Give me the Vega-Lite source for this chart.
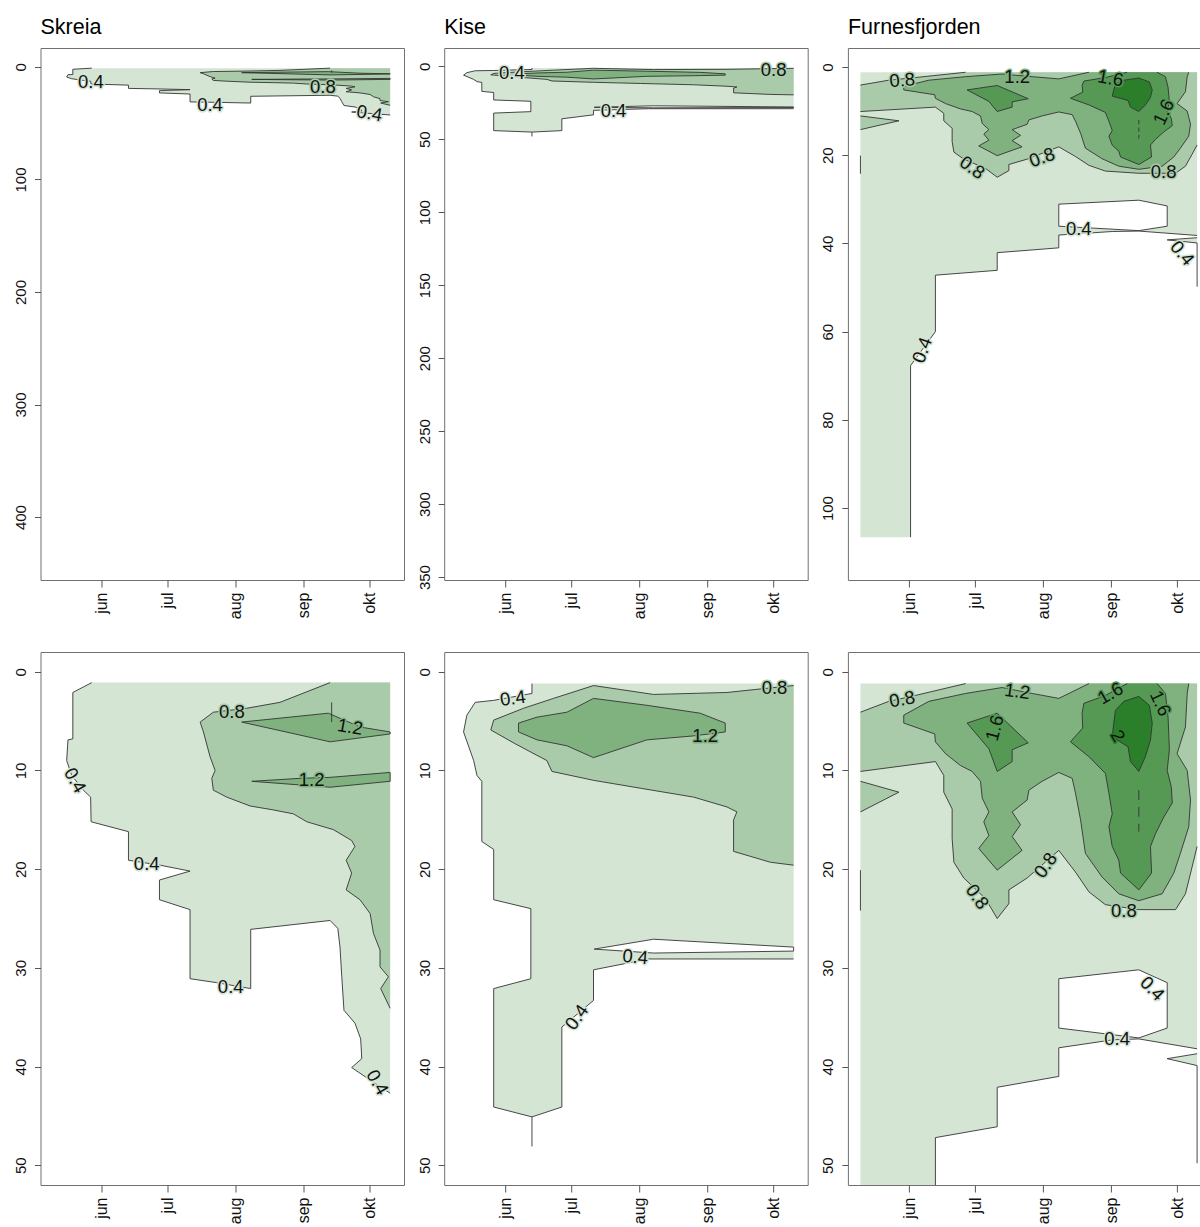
{
  "$schema": "https://vega.github.io/schema/vega-lite/v6.json",
  "background": "white",
  "padding": {"left": 12.5, "top": 16, "right": 0, "bottom": 0},
  "config": {
    "font": "Liberation Sans",
    "view": {"stroke": "#707070", "strokeWidth": 1},
    "title": {"font": "Liberation Sans", "fontSize": 21.5, "fontWeight": "normal", "anchor": "start", "frame": "group", "baseline": "alphabetic", "offset": 9.5, "color": "#000000"},
    "axisX": {"labelAngle": -90, "labelAlign": "right", "labelBaseline": "middle", "tickSize": 7, "labelPadding": 5, "labelFontSize": 16, "labelFont": "Liberation Sans", "labelColor": "#111111", "tickColor": "#555555", "domain": false, "grid": false, "labelOverlap": false, "labelFlush": false},
    "axisY": {"labelAngle": -90, "labelAlign": "center", "labelBaseline": "alphabetic", "tickSize": 6, "labelPadding": 9, "labelFontSize": 15, "labelFont": "Liberation Sans", "labelColor": "#111111", "tickColor": "#555555", "domain": false, "grid": false, "labelOverlap": false, "labelFlush": false}
  },
  "datasets": {
    "skreia": [
      {"p":1,"lv":0.4,"s":1,"t":147.5,"d":1.1},
      {"p":1,"lv":0.4,"s":1,"t":138.9,"d":2.1},
      {"p":1,"lv":0.4,"s":1,"t":138.9,"d":6.8},
      {"p":1,"lv":0.4,"s":1,"t":136.7,"d":6.9},
      {"p":1,"lv":0.4,"s":1,"t":136.1,"d":9.0},
      {"p":1,"lv":0.4,"s":1,"t":138.4,"d":10.5},
      {"p":1,"lv":0.4,"s":1,"t":143.7,"d":12.0},
      {"p":1,"lv":0.4,"s":1,"t":147.0,"d":12.7},
      {"p":1,"lv":0.4,"s":1,"t":147.2,"d":15.2},
      {"p":1,"lv":0.4,"s":1,"t":164.2,"d":16.2},
      {"p":1,"lv":0.4,"s":1,"t":164.2,"d":19.1},
      {"p":1,"lv":0.4,"s":1,"t":178.6,"d":19.6},
      {"p":1,"lv":0.4,"s":1,"t":192.2,"d":20.2},
      {"p":1,"lv":0.4,"s":1,"t":178.3,"d":21.1},
      {"p":1,"lv":0.4,"s":1,"t":178.3,"d":23.1},
      {"p":1,"lv":0.4,"s":1,"t":192.2,"d":24.1},
      {"p":1,"lv":0.4,"s":1,"t":192.2,"d":31.1},
      {"p":1,"lv":0.4,"s":1,"t":204.3,"d":31.5},
      {"p":1,"lv":0.4,"s":1,"t":219.8,"d":32.1},
      {"p":1,"lv":0.4,"s":1,"t":219.8,"d":26.1},
      {"p":1,"lv":0.4,"s":1,"t":255.9,"d":25.2},
      {"p":1,"lv":0.4,"s":1,"t":259.4,"d":26.0},
      {"p":1,"lv":0.4,"s":1,"t":260.4,"d":27.9},
      {"p":1,"lv":0.4,"s":1,"t":261.2,"d":30.9},
      {"p":1,"lv":0.4,"s":1,"t":262.2,"d":34.3},
      {"p":1,"lv":0.4,"s":1,"t":267.2,"d":35.6},
      {"p":1,"lv":0.4,"s":1,"t":269.8,"d":37.2},
      {"p":1,"lv":0.4,"s":1,"t":270.3,"d":39.2},
      {"p":1,"lv":0.4,"s":1,"t":265.7,"d":40.1},
      {"p":1,"lv":0.4,"s":1,"t":275.6,"d":41.6},
      {"p":1,"lv":0.4,"s":1,"t":283.2,"d":42.7},
      {"p":1,"lv":0.4,"s":0,"t":283.2,"d":1.1},
      {"p":2,"lv":0.8,"s":2,"t":255.9,"d":1.1},
      {"p":2,"lv":0.8,"s":2,"t":233.1,"d":3.1},
      {"p":2,"lv":0.8,"s":2,"t":218.0,"d":3.7},
      {"p":2,"lv":0.8,"s":2,"t":202.8,"d":4.1},
      {"p":2,"lv":0.8,"s":2,"t":196.8,"d":5.1},
      {"p":2,"lv":0.8,"s":2,"t":198.3,"d":6.1},
      {"p":2,"lv":0.8,"s":2,"t":201.3,"d":8.6},
      {"p":2,"lv":0.8,"s":2,"t":203.6,"d":10.0},
      {"p":2,"lv":0.8,"s":2,"t":202.1,"d":10.8},
      {"p":2,"lv":0.8,"s":2,"t":202.8,"d":12.0},
      {"p":2,"lv":0.8,"s":2,"t":208.9,"d":12.7},
      {"p":2,"lv":0.8,"s":2,"t":219.5,"d":13.6},
      {"p":2,"lv":0.8,"s":2,"t":230.1,"d":14.0},
      {"p":2,"lv":0.8,"s":2,"t":239.2,"d":14.4},
      {"p":2,"lv":0.8,"s":2,"t":245.3,"d":15.2},
      {"p":2,"lv":0.8,"s":2,"t":257.4,"d":16.0},
      {"p":2,"lv":0.8,"s":2,"t":265.7,"d":17.1},
      {"p":2,"lv":0.8,"s":2,"t":267.2,"d":17.7},
      {"p":2,"lv":0.8,"s":2,"t":263.2,"d":19.1},
      {"p":2,"lv":0.8,"s":2,"t":265.7,"d":20.4},
      {"p":2,"lv":0.8,"s":2,"t":263.2,"d":22.1},
      {"p":2,"lv":0.8,"s":2,"t":269.5,"d":23.1},
      {"p":2,"lv":0.8,"s":2,"t":274.1,"d":24.5},
      {"p":2,"lv":0.8,"s":2,"t":275.6,"d":26.5},
      {"p":2,"lv":0.8,"s":2,"t":278.6,"d":28.2},
      {"p":2,"lv":0.8,"s":2,"t":278.6,"d":29.9},
      {"p":2,"lv":0.8,"s":2,"t":282.4,"d":30.9},
      {"p":2,"lv":0.8,"s":2,"t":278.9,"d":32.1},
      {"p":2,"lv":0.8,"s":2,"t":283.2,"d":34.1},
      {"p":2,"lv":0.8,"s":0,"t":283.2,"d":1.1},
      {"p":3,"lv":1.2,"s":3,"t":215.7,"d":5.1},
      {"p":3,"lv":1.2,"s":3,"t":255.1,"d":4.2},
      {"p":3,"lv":1.2,"s":3,"t":269.5,"d":5.6},
      {"p":3,"lv":1.2,"s":3,"t":283.2,"d":6.1},
      {"p":3,"lv":1.2,"s":3,"t":283.2,"d":6.3},
      {"p":3,"lv":1.2,"s":3,"t":255.9,"d":7.1},
      {"p":3,"lv":1.2,"s":3,"t":215.7,"d":5.1},
      {"p":4,"lv":1.2,"s":4,"t":220.3,"d":11.1},
      {"p":4,"lv":1.2,"s":4,"t":242.2,"d":10.8},
      {"p":4,"lv":1.2,"s":4,"t":255.9,"d":10.7},
      {"p":4,"lv":1.2,"s":4,"t":283.2,"d":10.2},
      {"p":4,"lv":1.2,"s":4,"t":283.2,"d":11.1},
      {"p":4,"lv":1.2,"s":4,"t":255.9,"d":11.7},
      {"p":4,"lv":1.2,"s":4,"t":220.3,"d":11.1},
      {"p":5,"lv":1.2,"s":5,"t":256.6,"d":3.1},
      {"p":5,"lv":1.2,"s":5,"t":256.6,"d":5.1}
    ],
    "kise": [
      {"p":1,"lv":0.4,"s":1,"t":164.1,"d":1.2},
      {"p":1,"lv":0.4,"s":1,"t":164.1,"d":2.2},
      {"p":1,"lv":0.4,"s":1,"t":146.7,"d":2.9},
      {"p":1,"lv":0.4,"s":1,"t":138.3,"d":3.1},
      {"p":1,"lv":0.4,"s":1,"t":134.5,"d":4.4},
      {"p":1,"lv":0.4,"s":1,"t":133.0,"d":6.1},
      {"p":1,"lv":0.4,"s":1,"t":137.6,"d":9.0},
      {"p":1,"lv":0.4,"s":1,"t":139.1,"d":10.5},
      {"p":1,"lv":0.4,"s":1,"t":141.3,"d":11.1},
      {"p":1,"lv":0.4,"s":1,"t":141.3,"d":17.2},
      {"p":1,"lv":0.4,"s":1,"t":146.7,"d":18.0},
      {"p":1,"lv":0.4,"s":1,"t":146.7,"d":23.1},
      {"p":1,"lv":0.4,"s":1,"t":163.6,"d":24.0},
      {"p":1,"lv":0.4,"s":1,"t":163.6,"d":31.1},
      {"p":1,"lv":0.4,"s":1,"t":146.7,"d":32.1},
      {"p":1,"lv":0.4,"s":1,"t":146.7,"d":44.1},
      {"p":1,"lv":0.4,"s":1,"t":164.1,"d":45.1},
      {"p":1,"lv":0.4,"s":1,"t":177.7,"d":44.1},
      {"p":1,"lv":0.4,"s":1,"t":177.7,"d":36.0},
      {"p":1,"lv":0.4,"s":1,"t":192.1,"d":33.3},
      {"p":1,"lv":0.4,"s":1,"t":192.1,"d":30.2},
      {"p":1,"lv":0.4,"s":1,"t":217.1,"d":29.1},
      {"p":1,"lv":0.4,"s":1,"t":283.1,"d":29.1},
      {"p":1,"lv":0.4,"s":0,"t":283.1,"d":1.2},
      {"p":2,"lv":0,"s":2,"t":192.4,"d":28.1},
      {"p":2,"lv":0,"s":2,"t":219.4,"d":27.1},
      {"p":2,"lv":0,"s":2,"t":283.1,"d":27.9},
      {"p":2,"lv":0,"s":2,"t":283.1,"d":28.3},
      {"p":2,"lv":0,"s":2,"t":219.4,"d":28.5},
      {"p":2,"lv":0,"s":2,"t":192.4,"d":28.1},
      {"p":3,"lv":0.8,"s":3,"t":283.1,"d":1.4},
      {"p":3,"lv":0.8,"s":3,"t":265.6,"d":1.8},
      {"p":3,"lv":0.8,"s":3,"t":252.8,"d":2.1},
      {"p":3,"lv":0.8,"s":3,"t":219.4,"d":2.3},
      {"p":3,"lv":0.8,"s":3,"t":192.1,"d":1.4},
      {"p":3,"lv":0.8,"s":3,"t":173.9,"d":2.7},
      {"p":3,"lv":0.8,"s":3,"t":160.3,"d":3.7},
      {"p":3,"lv":0.8,"s":3,"t":146.7,"d":4.9},
      {"p":3,"lv":0.8,"s":3,"t":145.4,"d":5.9},
      {"p":3,"lv":0.8,"s":3,"t":156.5,"d":7.3},
      {"p":3,"lv":0.8,"s":3,"t":170.9,"d":9.0},
      {"p":3,"lv":0.8,"s":3,"t":173.2,"d":10.1},
      {"p":3,"lv":0.8,"s":3,"t":192.1,"d":11.0},
      {"p":3,"lv":0.8,"s":3,"t":213.4,"d":11.8},
      {"p":3,"lv":0.8,"s":3,"t":237.6,"d":12.7},
      {"p":3,"lv":0.8,"s":3,"t":252.8,"d":13.7},
      {"p":3,"lv":0.8,"s":3,"t":257.3,"d":14.2},
      {"p":3,"lv":0.8,"s":3,"t":255.8,"d":15.0},
      {"p":3,"lv":0.8,"s":3,"t":255.8,"d":18.2},
      {"p":3,"lv":0.8,"s":3,"t":272.5,"d":19.3},
      {"p":3,"lv":0.8,"s":3,"t":283.1,"d":19.6},
      {"p":4,"lv":1.2,"s":4,"t":158.0,"d":5.2},
      {"p":4,"lv":1.2,"s":4,"t":166.4,"d":4.6},
      {"p":4,"lv":1.2,"s":4,"t":180.0,"d":4.1},
      {"p":4,"lv":1.2,"s":4,"t":192.1,"d":2.7},
      {"p":4,"lv":1.2,"s":4,"t":216.4,"d":3.4},
      {"p":4,"lv":1.2,"s":4,"t":240.6,"d":4.2},
      {"p":4,"lv":1.2,"s":4,"t":252.0,"d":5.2},
      {"p":4,"lv":1.2,"s":4,"t":252.0,"d":6.1},
      {"p":4,"lv":1.2,"s":4,"t":237.6,"d":6.5},
      {"p":4,"lv":1.2,"s":4,"t":216.4,"d":6.9},
      {"p":4,"lv":1.2,"s":4,"t":192.1,"d":8.7},
      {"p":4,"lv":1.2,"s":4,"t":180.0,"d":7.5},
      {"p":4,"lv":1.2,"s":4,"t":166.4,"d":6.9},
      {"p":4,"lv":1.2,"s":4,"t":158.0,"d":6.1},
      {"p":4,"lv":1.2,"s":4,"t":158.0,"d":5.2},
      {"p":5,"lv":0.4,"s":5,"t":164.1,"d":45.1},
      {"p":5,"lv":0.4,"s":5,"t":164.1,"d":48.1}
    ],
    "furnes": [
      {"p":1,"lv":0.4,"s":1,"t":283.0,"d":38.2},
      {"p":1,"lv":0.4,"s":1,"t":256.5,"d":37.2},
      {"p":1,"lv":0.4,"s":1,"t":244.4,"d":37.3},
      {"p":1,"lv":0.4,"s":1,"t":220.1,"d":38.1},
      {"p":1,"lv":0.4,"s":1,"t":220.1,"d":41.0},
      {"p":1,"lv":0.4,"s":1,"t":192.1,"d":42.1},
      {"p":1,"lv":0.4,"s":1,"t":192.1,"d":46.1},
      {"p":1,"lv":0.4,"s":1,"t":164.0,"d":47.2},
      {"p":1,"lv":0.4,"s":1,"t":164.0,"d":60.0},
      {"p":1,"lv":0.4,"s":1,"t":152.7,"d":67.7},
      {"p":1,"lv":0.4,"s":1,"t":152.7,"d":106.6},
      {"p":1,"lv":0.4,"s":0,"t":129.9,"d":106.6},
      {"p":1,"lv":0.4,"s":0,"t":129.9,"d":1.2},
      {"p":1,"lv":0.4,"s":0,"t":283.0,"d":1.2},
      {"p":2,"lv":0,"s":2,"t":220.1,"d":31.1},
      {"p":2,"lv":0,"s":2,"t":256.5,"d":30.2},
      {"p":2,"lv":0,"s":2,"t":269.4,"d":31.5},
      {"p":2,"lv":0,"s":2,"t":269.4,"d":36.1},
      {"p":2,"lv":0,"s":2,"t":256.5,"d":37.1},
      {"p":2,"lv":0,"s":2,"t":220.1,"d":36.1},
      {"p":2,"lv":0,"s":2,"t":220.1,"d":31.1},
      {"p":3,"lv":0.4,"s":3,"t":283.0,"d":38.7},
      {"p":3,"lv":0.4,"s":3,"t":269.4,"d":39.2},
      {"p":3,"lv":0.4,"s":3,"t":283.0,"d":39.9},
      {"p":4,"lv":0.8,"s":4,"t":129.9,"d":4.1},
      {"p":4,"lv":0.8,"s":4,"t":142.8,"d":3.0},
      {"p":4,"lv":0.8,"s":4,"t":154.9,"d":2.4},
      {"p":4,"lv":0.8,"s":4,"t":177.7,"d":1.2},
      {"p":4,"lv":0.8,"s":0,"t":283.0,"d":1.2},
      {"p":4,"lv":0.8,"s":5,"t":283.0,"d":17.7},
      {"p":4,"lv":0.8,"s":5,"t":280.7,"d":19.8},
      {"p":4,"lv":0.8,"s":5,"t":277.7,"d":22.5},
      {"p":4,"lv":0.8,"s":5,"t":273.2,"d":24.1},
      {"p":4,"lv":0.8,"s":5,"t":256.5,"d":24.1},
      {"p":4,"lv":0.8,"s":5,"t":241.3,"d":23.6},
      {"p":4,"lv":0.8,"s":5,"t":233.8,"d":22.3},
      {"p":4,"lv":0.8,"s":5,"t":227.7,"d":20.3},
      {"p":4,"lv":0.8,"s":5,"t":220.1,"d":18.1},
      {"p":4,"lv":0.8,"s":5,"t":205.7,"d":20.9},
      {"p":4,"lv":0.8,"s":5,"t":197.4,"d":22.1},
      {"p":4,"lv":0.8,"s":5,"t":197.4,"d":23.5},
      {"p":4,"lv":0.8,"s":5,"t":192.1,"d":25.0},
      {"p":4,"lv":0.8,"s":5,"t":186.8,"d":23.0},
      {"p":4,"lv":0.8,"s":5,"t":176.9,"d":20.9},
      {"p":4,"lv":0.8,"s":5,"t":172.4,"d":19.3},
      {"p":4,"lv":0.8,"s":5,"t":171.6,"d":16.9},
      {"p":4,"lv":0.8,"s":5,"t":171.6,"d":13.9},
      {"p":4,"lv":0.8,"s":5,"t":167.8,"d":12.2},
      {"p":4,"lv":0.8,"s":5,"t":167.8,"d":10.5},
      {"p":4,"lv":0.8,"s":5,"t":164.0,"d":9.1},
      {"p":4,"lv":0.8,"s":5,"t":129.9,"d":10.1},
      {"p":5,"lv":0.8,"s":6,"t":129.9,"d":11.1},
      {"p":5,"lv":0.8,"s":6,"t":147.4,"d":12.2},
      {"p":5,"lv":0.8,"s":6,"t":129.9,"d":14.2},
      {"p":6,"lv":1.2,"s":7,"t":279.2,"d":1.2},
      {"p":6,"lv":1.2,"s":7,"t":278.5,"d":2.2},
      {"p":6,"lv":1.2,"s":7,"t":277.7,"d":5.6},
      {"p":6,"lv":1.2,"s":7,"t":273.9,"d":8.3},
      {"p":6,"lv":1.2,"s":7,"t":278.5,"d":10.0},
      {"p":6,"lv":1.2,"s":7,"t":280.0,"d":13.0},
      {"p":6,"lv":1.2,"s":7,"t":279.2,"d":15.7},
      {"p":6,"lv":1.2,"s":7,"t":275.4,"d":18.4},
      {"p":6,"lv":1.2,"s":7,"t":272.4,"d":20.4},
      {"p":6,"lv":1.2,"s":7,"t":267.1,"d":22.5},
      {"p":6,"lv":1.2,"s":7,"t":256.5,"d":23.2},
      {"p":6,"lv":1.2,"s":7,"t":247.4,"d":22.5},
      {"p":6,"lv":1.2,"s":7,"t":239.8,"d":20.8},
      {"p":6,"lv":1.2,"s":7,"t":232.2,"d":18.4},
      {"p":6,"lv":1.2,"s":7,"t":230.0,"d":15.0},
      {"p":6,"lv":1.2,"s":7,"t":227.7,"d":12.3},
      {"p":6,"lv":1.2,"s":7,"t":226.2,"d":10.8},
      {"p":6,"lv":1.2,"s":7,"t":220.1,"d":10.2},
      {"p":6,"lv":1.2,"s":7,"t":212.5,"d":11.1},
      {"p":6,"lv":1.2,"s":7,"t":206.5,"d":12.0},
      {"p":6,"lv":1.2,"s":7,"t":205.7,"d":13.0},
      {"p":6,"lv":1.2,"s":7,"t":198.9,"d":14.2},
      {"p":6,"lv":1.2,"s":7,"t":202.7,"d":15.5},
      {"p":6,"lv":1.2,"s":7,"t":198.9,"d":16.7},
      {"p":6,"lv":1.2,"s":7,"t":203.4,"d":18.1},
      {"p":6,"lv":1.2,"s":7,"t":192.1,"d":20.1},
      {"p":6,"lv":1.2,"s":7,"t":183.7,"d":17.9},
      {"p":6,"lv":1.2,"s":7,"t":188.3,"d":16.6},
      {"p":6,"lv":1.2,"s":7,"t":186.0,"d":15.2},
      {"p":6,"lv":1.2,"s":7,"t":188.3,"d":14.2},
      {"p":6,"lv":1.2,"s":7,"t":185.3,"d":12.8},
      {"p":6,"lv":1.2,"s":7,"t":184.5,"d":11.1},
      {"p":6,"lv":1.2,"s":7,"t":180.7,"d":10.1},
      {"p":6,"lv":1.2,"s":7,"t":175.4,"d":9.5},
      {"p":6,"lv":1.2,"s":7,"t":168.6,"d":8.3},
      {"p":6,"lv":1.2,"s":7,"t":164.0,"d":7.1},
      {"p":6,"lv":1.2,"s":7,"t":163.7,"d":6.3},
      {"p":6,"lv":1.2,"s":7,"t":149.6,"d":5.2},
      {"p":6,"lv":1.2,"s":7,"t":149.6,"d":4.4},
      {"p":6,"lv":1.2,"s":7,"t":161.0,"d":3.0},
      {"p":6,"lv":1.2,"s":7,"t":177.7,"d":2.2},
      {"p":6,"lv":1.2,"s":7,"t":194.3,"d":1.6},
      {"p":6,"lv":1.2,"s":7,"t":208.0,"d":2.2},
      {"p":6,"lv":1.2,"s":7,"t":220.1,"d":2.7},
      {"p":6,"lv":1.2,"s":7,"t":233.8,"d":1.2},
      {"p":7,"lv":1.6,"s":8,"t":178.4,"d":5.2},
      {"p":7,"lv":1.6,"s":8,"t":192.1,"d":4.2},
      {"p":7,"lv":1.6,"s":8,"t":206.2,"d":7.2},
      {"p":7,"lv":1.6,"s":8,"t":198.9,"d":7.9},
      {"p":7,"lv":1.6,"s":8,"t":198.9,"d":9.1},
      {"p":7,"lv":1.6,"s":8,"t":192.1,"d":10.1},
      {"p":7,"lv":1.6,"s":8,"t":188.3,"d":7.8},
      {"p":7,"lv":1.6,"s":8,"t":178.4,"d":5.2},
      {"p":8,"lv":1.6,"s":9,"t":251.2,"d":1.2},
      {"p":8,"lv":1.6,"s":9,"t":241.3,"d":2.4},
      {"p":8,"lv":1.6,"s":9,"t":231.5,"d":3.2},
      {"p":8,"lv":1.6,"s":9,"t":230.7,"d":4.2},
      {"p":8,"lv":1.6,"s":9,"t":231.0,"d":5.7},
      {"p":8,"lv":1.6,"s":9,"t":225.4,"d":7.1},
      {"p":8,"lv":1.6,"s":9,"t":233.8,"d":8.6},
      {"p":8,"lv":1.6,"s":9,"t":241.3,"d":10.3},
      {"p":8,"lv":1.6,"s":9,"t":242.9,"d":12.3},
      {"p":8,"lv":1.6,"s":9,"t":244.4,"d":14.4},
      {"p":8,"lv":1.6,"s":9,"t":242.9,"d":15.7},
      {"p":8,"lv":1.6,"s":9,"t":244.4,"d":17.7},
      {"p":8,"lv":1.6,"s":9,"t":247.4,"d":19.1},
      {"p":8,"lv":1.6,"s":9,"t":248.2,"d":20.4},
      {"p":8,"lv":1.6,"s":9,"t":256.5,"d":22.1},
      {"p":8,"lv":1.6,"s":9,"t":262.3,"d":20.4},
      {"p":8,"lv":1.6,"s":9,"t":261.8,"d":17.7},
      {"p":8,"lv":1.6,"s":9,"t":264.1,"d":16.4},
      {"p":8,"lv":1.6,"s":9,"t":267.9,"d":14.7},
      {"p":8,"lv":1.6,"s":9,"t":271.7,"d":13.3},
      {"p":8,"lv":1.6,"s":9,"t":271.3,"d":11.7},
      {"p":8,"lv":1.6,"s":9,"t":269.4,"d":10.0},
      {"p":8,"lv":1.6,"s":9,"t":270.4,"d":7.9},
      {"p":8,"lv":1.6,"s":9,"t":269.8,"d":4.6},
      {"p":8,"lv":1.6,"s":9,"t":268.6,"d":2.2},
      {"p":8,"lv":1.6,"s":9,"t":264.8,"d":1.2},
      {"p":9,"lv":2,"s":10,"t":245.9,"d":3.9},
      {"p":9,"lv":2,"s":10,"t":249.7,"d":3.0},
      {"p":9,"lv":2,"s":10,"t":256.5,"d":2.5},
      {"p":9,"lv":2,"s":10,"t":261.3,"d":3.4},
      {"p":9,"lv":2,"s":10,"t":262.6,"d":5.2},
      {"p":9,"lv":2,"s":10,"t":261.8,"d":6.9},
      {"p":9,"lv":2,"s":10,"t":259.5,"d":8.6},
      {"p":9,"lv":2,"s":10,"t":256.5,"d":10.1},
      {"p":9,"lv":2,"s":10,"t":252.7,"d":9.1},
      {"p":9,"lv":2,"s":10,"t":251.6,"d":7.6},
      {"p":9,"lv":2,"s":10,"t":244.4,"d":6.6},
      {"p":9,"lv":2,"s":10,"t":245.1,"d":5.2},
      {"p":9,"lv":2,"s":10,"t":245.9,"d":3.9},
      {"p":10,"lv":2,"s":11,"t":256.5,"d":12.0},
      {"p":10,"lv":2,"s":11,"t":256.5,"d":13.0},
      {"p":11,"lv":2,"s":12,"t":256.5,"d":13.7},
      {"p":11,"lv":2,"s":12,"t":256.5,"d":14.7},
      {"p":12,"lv":2,"s":13,"t":256.5,"d":15.4},
      {"p":12,"lv":2,"s":13,"t":256.5,"d":16.2},
      {"p":13,"lv":0.4,"s":14,"t":129.9,"d":20.1},
      {"p":13,"lv":0.4,"s":14,"t":129.9,"d":24.2},
      {"p":14,"lv":0.4,"s":15,"t":283.0,"d":39.9},
      {"p":14,"lv":0.4,"s":15,"t":283.0,"d":49.8}
    ],
    "lab": [
      {"pn":"S1","t":147.1,"d":13.6,"lv":0.4,"ang":0},
      {"pn":"S1","t":201.3,"d":33.8,"lv":0.4,"ang":0},
      {"pn":"S1","t":252.6,"d":18.0,"lv":0.8,"ang":0},
      {"pn":"S1","t":273.8,"d":41.2,"lv":0.4,"ang":10},
      {"pn":"K1","t":155.0,"d":4.3,"lv":0.4,"ang":0},
      {"pn":"K1","t":274.0,"d":2.7,"lv":0.8,"ang":0},
      {"pn":"K1","t":201.2,"d":30.6,"lv":0.4,"ang":0},
      {"pn":"F1","t":148.9,"d":3.0,"lv":0.8,"ang":-5},
      {"pn":"F1","t":201.2,"d":2.2,"lv":1.2,"ang":0},
      {"pn":"F1","t":243.6,"d":2.6,"lv":1.6,"ang":10},
      {"pn":"F1","t":267.8,"d":10.2,"lv":1.6,"ang":-65},
      {"pn":"F1","t":180.7,"d":22.8,"lv":0.8,"ang":35},
      {"pn":"F1","t":212.5,"d":20.5,"lv":0.8,"ang":-20},
      {"pn":"F1","t":267.8,"d":23.9,"lv":0.8,"ang":0},
      {"pn":"F1","t":229.2,"d":36.8,"lv":0.4,"ang":0},
      {"pn":"F1","t":276.2,"d":42.2,"lv":0.4,"ang":50},
      {"pn":"F1","t":158.0,"d":64.2,"lv":0.4,"ang":-70},
      {"pn":"S2","t":211.2,"d":4.1,"lv":0.8,"ang":0},
      {"pn":"S2","t":265.0,"d":5.6,"lv":1.2,"ang":10},
      {"pn":"S2","t":247.5,"d":11.0,"lv":1.2,"ang":0},
      {"pn":"S2","t":139.9,"d":11.0,"lv":0.4,"ang":60},
      {"pn":"S2","t":172.5,"d":19.5,"lv":0.4,"ang":0},
      {"pn":"S2","t":210.7,"d":31.9,"lv":0.4,"ang":0},
      {"pn":"S2","t":277.4,"d":41.6,"lv":0.4,"ang":60},
      {"pn":"K2","t":155.4,"d":2.7,"lv":0.4,"ang":-8},
      {"pn":"K2","t":274.4,"d":1.6,"lv":0.8,"ang":0},
      {"pn":"K2","t":242.9,"d":6.5,"lv":1.2,"ang":0},
      {"pn":"K2","t":211.1,"d":28.9,"lv":0.4,"ang":5},
      {"pn":"K2","t":184.5,"d":35.0,"lv":0.4,"ang":-55},
      {"pn":"F2","t":148.9,"d":2.8,"lv":0.8,"ang":-10},
      {"pn":"F2","t":201.2,"d":2.0,"lv":1.2,"ang":8},
      {"pn":"F2","t":191.0,"d":5.7,"lv":1.6,"ang":-75},
      {"pn":"F2","t":243.6,"d":2.2,"lv":1.6,"ang":-30},
      {"pn":"F2","t":266.3,"d":3.2,"lv":1.6,"ang":65},
      {"pn":"F2","t":246.9,"d":6.5,"lv":2,"ang":60},
      {"pn":"F2","t":183.0,"d":22.8,"lv":0.8,"ang":55},
      {"pn":"F2","t":214.1,"d":19.6,"lv":0.8,"ang":-55},
      {"pn":"F2","t":249.7,"d":24.2,"lv":0.8,"ang":0},
      {"pn":"F2","t":262.6,"d":32.1,"lv":0.4,"ang":45},
      {"pn":"F2","t":246.6,"d":37.2,"lv":0.4,"ang":0}
    ]
  },
  "columns": 3,
  "spacing": {"row": 72, "column": 39.7},
  "bounds": "flush",
  "concat": [
    {
      "width": 363.5, "height": 532, "title": "Skreia",
      "encoding": {
        "x": {"field": "t", "type": "quantitative", "scale": {"domain": [124.2, 289.5], "nice": false, "zero": false}, "axis": {"values": [152, 182, 213, 244, 274], "labelExpr": "datum.value==152?'jun':datum.value==182?'jul':datum.value==213?'aug':datum.value==244?'sep':'okt'", "title": null}},
        "y": {"field": "d", "type": "quantitative", "scale": {"domain": [-16.8, 455.9], "reverse": true, "nice": false, "zero": false}, "axis": {"values": [0, 100, 200, 300, 400], "title": null}}
      },
      "layer": [
        {"data": {"name": "skreia"}, "mark": {"type": "line", "clip": true, "strokeWidth": 0, "strokeOpacity": 0}, "encoding": {"detail": {"field": "p", "type": "nominal"}, "order": {"value": null}, "fill": {"field": "lv", "type": "ordinal", "scale": {"domain": [0, 0.4, 0.8, 1.2, 1.6, 2], "range": ["#ffffff", "#d4e5d4", "#aacbaa", "#80b280", "#559955", "#2b7f2b"]}, "legend": null}}},
        {"data": {"name": "skreia"}, "transform": [{"filter": "datum.s > 0"}], "mark": {"type": "line", "clip": true, "color": "#333333", "strokeWidth": 0.9}, "encoding": {"detail": {"field": "s", "type": "nominal"}, "order": {"value": null}}},
        {"data": {"name": "lab"}, "transform": [{"filter": "datum.pn == 'S1'"}], "mark": {"type": "text", "fontSize": 18.5, "strokeWidth": 3, "strokeJoin": "round"}, "encoding": {"text": {"field": "lv", "type": "nominal"}, "angle": {"field": "ang", "type": "quantitative", "scale": null}, "fill": {"field": "lv", "type": "ordinal", "legend": null}, "stroke": {"field": "lv", "type": "ordinal", "scale": {"domain": [0, 0.4, 0.8, 1.2, 1.6, 2], "range": ["#ffffff", "#d4e5d4", "#aacbaa", "#80b280", "#559955", "#2b7f2b"]}, "legend": null}}},
        {"data": {"name": "lab"}, "transform": [{"filter": "datum.pn == 'S1'"}], "mark": {"type": "text", "fontSize": 18.5, "color": "#111111"}, "encoding": {"text": {"field": "lv", "type": "nominal"}, "angle": {"field": "ang", "type": "quantitative", "scale": null}}}
      ]
    },
    {
      "width": 363.5, "height": 532, "title": "Kise",
      "encoding": {
        "x": {"field": "t", "type": "quantitative", "scale": {"domain": [124.2, 289.5], "nice": false, "zero": false}, "axis": {"values": [152, 182, 213, 244, 274], "labelExpr": "datum.value==152?'jun':datum.value==182?'jul':datum.value==213?'aug':datum.value==244?'sep':'okt'", "title": null}},
        "y": {"field": "d", "type": "quantitative", "scale": {"domain": [-12.5, 352], "reverse": true, "nice": false, "zero": false}, "axis": {"values": [0, 50, 100, 150, 200, 250, 300, 350], "title": null}}
      },
      "layer": [
        {"data": {"name": "kise"}, "mark": {"type": "line", "clip": true, "strokeWidth": 0, "strokeOpacity": 0}, "encoding": {"detail": {"field": "p", "type": "nominal"}, "order": {"value": null}, "fill": {"field": "lv", "type": "ordinal", "scale": {"domain": [0, 0.4, 0.8, 1.2, 1.6, 2], "range": ["#ffffff", "#d4e5d4", "#aacbaa", "#80b280", "#559955", "#2b7f2b"]}, "legend": null}}},
        {"data": {"name": "kise"}, "transform": [{"filter": "datum.s > 0"}], "mark": {"type": "line", "clip": true, "color": "#333333", "strokeWidth": 0.9}, "encoding": {"detail": {"field": "s", "type": "nominal"}, "order": {"value": null}}},
        {"data": {"name": "lab"}, "transform": [{"filter": "datum.pn == 'K1'"}], "mark": {"type": "text", "fontSize": 18.5, "strokeWidth": 3, "strokeJoin": "round"}, "encoding": {"text": {"field": "lv", "type": "nominal"}, "angle": {"field": "ang", "type": "quantitative", "scale": null}, "fill": {"field": "lv", "type": "ordinal", "legend": null}, "stroke": {"field": "lv", "type": "ordinal", "scale": {"domain": [0, 0.4, 0.8, 1.2, 1.6, 2], "range": ["#ffffff", "#d4e5d4", "#aacbaa", "#80b280", "#559955", "#2b7f2b"]}, "legend": null}}},
        {"data": {"name": "lab"}, "transform": [{"filter": "datum.pn == 'K1'"}], "mark": {"type": "text", "fontSize": 18.5, "color": "#111111"}, "encoding": {"text": {"field": "lv", "type": "nominal"}, "angle": {"field": "ang", "type": "quantitative", "scale": null}}}
      ]
    },
    {
      "width": 352.5, "height": 532, "title": "Furnesfjorden",
      "encoding": {
        "x": {"field": "t", "type": "quantitative", "scale": {"domain": [124.2, 284.5], "nice": false, "zero": false}, "axis": {"values": [152, 182, 213, 244, 274], "labelExpr": "datum.value==152?'jun':datum.value==182?'jul':datum.value==213?'aug':datum.value==244?'sep':'okt'", "title": null}},
        "y": {"field": "d", "type": "quantitative", "scale": {"domain": [-4.3, 116.3], "reverse": true, "nice": false, "zero": false}, "axis": {"values": [0, 20, 40, 60, 80, 100], "title": null}}
      },
      "layer": [
        {"data": {"name": "furnes"}, "mark": {"type": "line", "clip": true, "strokeWidth": 0, "strokeOpacity": 0}, "encoding": {"detail": {"field": "p", "type": "nominal"}, "order": {"value": null}, "fill": {"field": "lv", "type": "ordinal", "scale": {"domain": [0, 0.4, 0.8, 1.2, 1.6, 2], "range": ["#ffffff", "#d4e5d4", "#aacbaa", "#80b280", "#559955", "#2b7f2b"]}, "legend": null}}},
        {"data": {"name": "furnes"}, "transform": [{"filter": "datum.s > 0"}], "mark": {"type": "line", "clip": true, "color": "#333333", "strokeWidth": 0.9}, "encoding": {"detail": {"field": "s", "type": "nominal"}, "order": {"value": null}}},
        {"data": {"name": "lab"}, "transform": [{"filter": "datum.pn == 'F1'"}], "mark": {"type": "text", "fontSize": 18.5, "strokeWidth": 3, "strokeJoin": "round"}, "encoding": {"text": {"field": "lv", "type": "nominal"}, "angle": {"field": "ang", "type": "quantitative", "scale": null}, "fill": {"field": "lv", "type": "ordinal", "legend": null}, "stroke": {"field": "lv", "type": "ordinal", "scale": {"domain": [0, 0.4, 0.8, 1.2, 1.6, 2], "range": ["#ffffff", "#d4e5d4", "#aacbaa", "#80b280", "#559955", "#2b7f2b"]}, "legend": null}}},
        {"data": {"name": "lab"}, "transform": [{"filter": "datum.pn == 'F1'"}], "mark": {"type": "text", "fontSize": 18.5, "color": "#111111"}, "encoding": {"text": {"field": "lv", "type": "nominal"}, "angle": {"field": "ang", "type": "quantitative", "scale": null}}}
      ]
    },
    {
      "width": 363.5, "height": 533,
      "encoding": {
        "x": {"field": "t", "type": "quantitative", "scale": {"domain": [124.2, 289.5], "nice": false, "zero": false}, "axis": {"values": [152, 182, 213, 244, 274], "labelExpr": "datum.value==152?'jun':datum.value==182?'jul':datum.value==213?'aug':datum.value==244?'sep':'okt'", "title": null}},
        "y": {"field": "d", "type": "quantitative", "scale": {"domain": [-2, 52], "reverse": true, "nice": false, "zero": false}, "axis": {"values": [0, 10, 20, 30, 40, 50], "title": null}}
      },
      "layer": [
        {"data": {"name": "skreia"}, "mark": {"type": "line", "clip": true, "strokeWidth": 0, "strokeOpacity": 0}, "encoding": {"detail": {"field": "p", "type": "nominal"}, "order": {"value": null}, "fill": {"field": "lv", "type": "ordinal", "scale": {"domain": [0, 0.4, 0.8, 1.2, 1.6, 2], "range": ["#ffffff", "#d4e5d4", "#aacbaa", "#80b280", "#559955", "#2b7f2b"]}, "legend": null}}},
        {"data": {"name": "skreia"}, "transform": [{"filter": "datum.s > 0"}], "mark": {"type": "line", "clip": true, "color": "#333333", "strokeWidth": 0.9}, "encoding": {"detail": {"field": "s", "type": "nominal"}, "order": {"value": null}}},
        {"data": {"name": "lab"}, "transform": [{"filter": "datum.pn == 'S2'"}], "mark": {"type": "text", "fontSize": 18.5, "strokeWidth": 3, "strokeJoin": "round"}, "encoding": {"text": {"field": "lv", "type": "nominal"}, "angle": {"field": "ang", "type": "quantitative", "scale": null}, "fill": {"field": "lv", "type": "ordinal", "legend": null}, "stroke": {"field": "lv", "type": "ordinal", "scale": {"domain": [0, 0.4, 0.8, 1.2, 1.6, 2], "range": ["#ffffff", "#d4e5d4", "#aacbaa", "#80b280", "#559955", "#2b7f2b"]}, "legend": null}}},
        {"data": {"name": "lab"}, "transform": [{"filter": "datum.pn == 'S2'"}], "mark": {"type": "text", "fontSize": 18.5, "color": "#111111"}, "encoding": {"text": {"field": "lv", "type": "nominal"}, "angle": {"field": "ang", "type": "quantitative", "scale": null}}}
      ]
    },
    {
      "width": 363.5, "height": 533,
      "encoding": {
        "x": {"field": "t", "type": "quantitative", "scale": {"domain": [124.2, 289.5], "nice": false, "zero": false}, "axis": {"values": [152, 182, 213, 244, 274], "labelExpr": "datum.value==152?'jun':datum.value==182?'jul':datum.value==213?'aug':datum.value==244?'sep':'okt'", "title": null}},
        "y": {"field": "d", "type": "quantitative", "scale": {"domain": [-2, 52], "reverse": true, "nice": false, "zero": false}, "axis": {"values": [0, 10, 20, 30, 40, 50], "title": null}}
      },
      "layer": [
        {"data": {"name": "kise"}, "mark": {"type": "line", "clip": true, "strokeWidth": 0, "strokeOpacity": 0}, "encoding": {"detail": {"field": "p", "type": "nominal"}, "order": {"value": null}, "fill": {"field": "lv", "type": "ordinal", "scale": {"domain": [0, 0.4, 0.8, 1.2, 1.6, 2], "range": ["#ffffff", "#d4e5d4", "#aacbaa", "#80b280", "#559955", "#2b7f2b"]}, "legend": null}}},
        {"data": {"name": "kise"}, "transform": [{"filter": "datum.s > 0"}], "mark": {"type": "line", "clip": true, "color": "#333333", "strokeWidth": 0.9}, "encoding": {"detail": {"field": "s", "type": "nominal"}, "order": {"value": null}}},
        {"data": {"name": "lab"}, "transform": [{"filter": "datum.pn == 'K2'"}], "mark": {"type": "text", "fontSize": 18.5, "strokeWidth": 3, "strokeJoin": "round"}, "encoding": {"text": {"field": "lv", "type": "nominal"}, "angle": {"field": "ang", "type": "quantitative", "scale": null}, "fill": {"field": "lv", "type": "ordinal", "legend": null}, "stroke": {"field": "lv", "type": "ordinal", "scale": {"domain": [0, 0.4, 0.8, 1.2, 1.6, 2], "range": ["#ffffff", "#d4e5d4", "#aacbaa", "#80b280", "#559955", "#2b7f2b"]}, "legend": null}}},
        {"data": {"name": "lab"}, "transform": [{"filter": "datum.pn == 'K2'"}], "mark": {"type": "text", "fontSize": 18.5, "color": "#111111"}, "encoding": {"text": {"field": "lv", "type": "nominal"}, "angle": {"field": "ang", "type": "quantitative", "scale": null}}}
      ]
    },
    {
      "width": 352.5, "height": 533,
      "encoding": {
        "x": {"field": "t", "type": "quantitative", "scale": {"domain": [124.2, 284.5], "nice": false, "zero": false}, "axis": {"values": [152, 182, 213, 244, 274], "labelExpr": "datum.value==152?'jun':datum.value==182?'jul':datum.value==213?'aug':datum.value==244?'sep':'okt'", "title": null}},
        "y": {"field": "d", "type": "quantitative", "scale": {"domain": [-2, 52], "reverse": true, "nice": false, "zero": false}, "axis": {"values": [0, 10, 20, 30, 40, 50], "title": null}}
      },
      "layer": [
        {"data": {"name": "furnes"}, "mark": {"type": "line", "clip": true, "strokeWidth": 0, "strokeOpacity": 0}, "encoding": {"detail": {"field": "p", "type": "nominal"}, "order": {"value": null}, "fill": {"field": "lv", "type": "ordinal", "scale": {"domain": [0, 0.4, 0.8, 1.2, 1.6, 2], "range": ["#ffffff", "#d4e5d4", "#aacbaa", "#80b280", "#559955", "#2b7f2b"]}, "legend": null}}},
        {"data": {"name": "furnes"}, "transform": [{"filter": "datum.s > 0"}], "mark": {"type": "line", "clip": true, "color": "#333333", "strokeWidth": 0.9}, "encoding": {"detail": {"field": "s", "type": "nominal"}, "order": {"value": null}}},
        {"data": {"name": "lab"}, "transform": [{"filter": "datum.pn == 'F2'"}], "mark": {"type": "text", "fontSize": 18.5, "strokeWidth": 3, "strokeJoin": "round"}, "encoding": {"text": {"field": "lv", "type": "nominal"}, "angle": {"field": "ang", "type": "quantitative", "scale": null}, "fill": {"field": "lv", "type": "ordinal", "legend": null}, "stroke": {"field": "lv", "type": "ordinal", "scale": {"domain": [0, 0.4, 0.8, 1.2, 1.6, 2], "range": ["#ffffff", "#d4e5d4", "#aacbaa", "#80b280", "#559955", "#2b7f2b"]}, "legend": null}}},
        {"data": {"name": "lab"}, "transform": [{"filter": "datum.pn == 'F2'"}], "mark": {"type": "text", "fontSize": 18.5, "color": "#111111"}, "encoding": {"text": {"field": "lv", "type": "nominal"}, "angle": {"field": "ang", "type": "quantitative", "scale": null}}}
      ]
    }
  ]
}
